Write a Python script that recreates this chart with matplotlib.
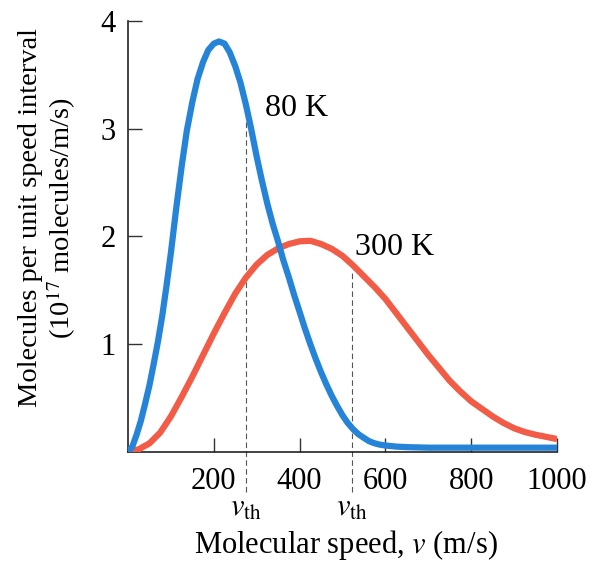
import matplotlib
matplotlib.use("Agg")
import matplotlib.pyplot as plt

# values
v_80 = [0, 10, 20, 30, 40, 50, 60, 70, 80, 90, 100, 112, 125, 137, 150, 162,
        175, 187, 200, 212, 225, 237, 250, 262, 275, 287, 300, 312, 325, 337,
        350, 362, 375, 387, 400, 412, 425, 437, 450, 462, 475, 487, 500, 512,
        525, 537, 550, 562, 575, 587, 600, 625, 650, 700, 800, 900, 1000]
n_80 = [0, 0.05, 0.16, 0.29, 0.45, 0.62, 0.82, 1.03, 1.27, 1.55, 1.85, 2.25,
        2.65, 2.98, 3.25, 3.46, 3.62, 3.73, 3.79, 3.81, 3.79, 3.71, 3.58, 3.43,
        3.22, 3.00, 2.74, 2.52, 2.30, 2.12, 1.95, 1.78, 1.62, 1.46, 1.30, 1.15,
        1.00, 0.87, 0.74, 0.63, 0.52, 0.43, 0.34, 0.27, 0.21, 0.165, 0.13, 0.10,
        0.08, 0.068, 0.06, 0.05, 0.045, 0.04, 0.04, 0.04, 0.04]

v_300 = [0, 25, 50, 75, 100, 125, 150, 175, 200, 225, 250, 275, 300, 325, 350,
         375, 400, 425, 450, 475, 500, 525, 550, 575, 600, 625, 650, 675, 700,
         725, 750, 775, 800, 825, 850, 875, 900, 925, 950, 975, 1000]
n_300 = [0, 0.025, 0.08, 0.18, 0.33, 0.51, 0.70, 0.90, 1.10, 1.29, 1.47, 1.62,
         1.74, 1.83, 1.89, 1.93, 1.955, 1.96, 1.93, 1.885, 1.82, 1.73, 1.63,
         1.53, 1.42, 1.29, 1.16, 1.03, 0.90, 0.78, 0.66, 0.56, 0.47, 0.40, 0.33,
         0.27, 0.22, 0.185, 0.16, 0.14, 0.12]

v_th = [275, 522]
v_th_top = [3.2, 1.68]

x_ticks = [200, 400, 600, 800, 1000]
y_ticks = [1, 2, 3, 4]

plt.rcParams['font.family'] = ['Liberation Serif', 'DejaVu Serif']
plt.rcParams['mathtext.fontset'] = 'stix'

fig = plt.figure(figsize=(6.05, 5.63), dpi=100)
ax = fig.add_axes([0.2116, 0.1972, 0.7091, 0.7655])

ax.plot(v_300, n_300, color='#f25b45', lw=4.5, solid_capstyle='butt',
        solid_joinstyle='round', zorder=3)
ax.plot(v_80, n_80, color='#2584d8', lw=4.5, solid_capstyle='butt',
        solid_joinstyle='round', zorder=4)

for x, top in zip(v_th, v_th_top):
    ax.plot([x, x], [-0.37, top], color='#555555', lw=0.8,
            dashes=(5, 3), clip_on=False, zorder=2)
    ax.text(x, -0.52, r'$v_{\rm th}$', fontsize=22, ha='center', va='center')

ax.text(319, 3.19, '80 K', fontsize=23, va='center')
ax.text(529, 1.90, '300 K', fontsize=23, va='center')

ax.set_xlim(0, 1000)
ax.set_ylim(0, 4)
ax.set_xticks(x_ticks)
ax.set_yticks(y_ticks)
ax.tick_params(direction='in', length=10, width=1, labelsize=22, color='#333333')
ax.tick_params(axis='x', pad=11)
ax.tick_params(axis='y', pad=9)
for side in ['top', 'right']:
    ax.spines[side].set_visible(False)
for side in ['left', 'bottom']:
    ax.spines[side].set_linewidth(1.2)
    ax.spines[side].set_color('#222222')

fig.text(346 / 605, 1 - 545 / 563, r'Molecular speed, $v$ (m/s)',
         fontsize=22, ha='center', va='center')
fig.text(48 / 605, 1 - 218 / 563,
         'Molecules per unit speed interval\n' + r'(10$^{17}$ molecules/m/s)',
         fontsize=20.5, ha='center', va='center', rotation=90,
         multialignment='center', linespacing=1.1)

fig.savefig('out.png', dpi=100)
